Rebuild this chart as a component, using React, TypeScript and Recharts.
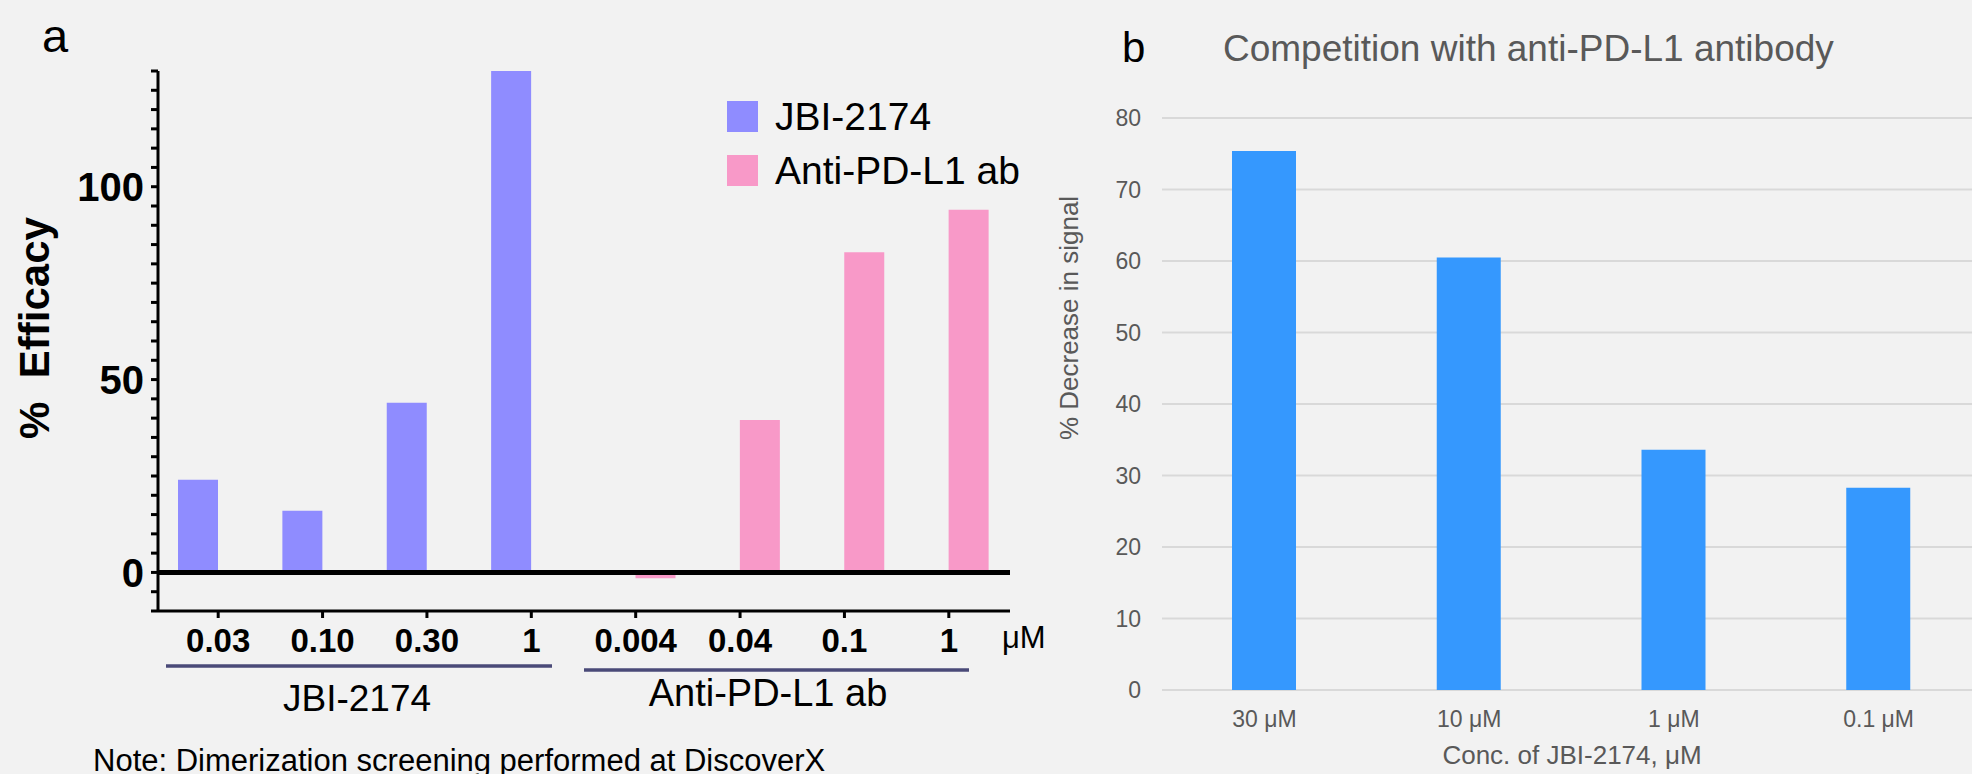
import { BarChart, Bar, XAxis, YAxis, CartesianGrid, ReferenceLine, Legend } from 'recharts'

const FONT = '"Liberation Sans", Arial, Helvetica, sans-serif'

// panel a: dimerization screening
const efficacyCategories = ['0.03', '0.10', '0.30', '1', '0.004', '0.04', '0.1', '1']
const jbiEfficacy = [24, 16, 44, 130, null, null, null, null]
const antibodyEfficacy = [null, null, null, null, -1.5, 39.5, 83, 94]
const efficacyTicks = [-10, -5, 0, 5, 10, 15, 20, 25, 30, 35, 40, 45, 50, 55, 60, 65, 70, 75, 80, 85, 90, 95, 100, 105, 110, 115, 120, 125, 130]
const efficacyLabeledTicks = [0, 50, 100]
const seriesNames = ['JBI-2174', 'Anti-PD-L1 ab']

// panel b: competition with antibody
const competitionCategories = ['30 μM', '10 μM', '1 μM', '0.1 μM']
const signalDecrease = [75.4, 60.5, 33.6, 28.3]
const decreaseTicks = [0, 10, 20, 30, 40, 50, 60, 70, 80]

const efficacyData = efficacyCategories.map((label, i) => ({
  label,
  jbi: jbiEfficacy[i],
  ab: antibodyEfficacy[i],
}))

const competitionData = competitionCategories.map((label, i) => ({
  label,
  value: signalDecrease[i],
}))

function EfficacyTick(props: any) {
  const { x, y, payload } = props
  if (!efficacyLabeledTicks.includes(payload.value)) return <g />
  return (
    <text x={x} y={y} dy="0.355em" textAnchor="end" fontSize={40} fontWeight="bold" fill="#000" fontFamily={FONT}>
      {payload.value}
    </text>
  )
}

function EfficacyLegend(props: any) {
  const items = [...(props.payload || [])].sort(
    (a: any, b: any) => seriesNames.indexOf(a.value) - seriesNames.indexOf(b.value)
  )
  return (
    <div style={{ fontFamily: FONT }}>
      {items.map((entry: any) => (
        <div key={entry.value} style={{ display: 'flex', alignItems: 'center', height: 31, marginBottom: 23 }}>
          <span style={{ width: 31, height: 31, background: entry.color, display: 'inline-block' }} />
          <span style={{ marginLeft: 17, fontSize: 39, lineHeight: '31px', color: '#000', whiteSpace: 'nowrap' }}>{entry.value}</span>
        </div>
      ))}
    </div>
  )
}

export default function App() {
  return (
    <div style={{ position: 'fixed', left: 0, top: 0, width: 1972, height: 774, overflow: 'hidden', background: '#f2f2f2' }}>
      <div style={{ position: 'absolute', left: 0, top: 0 }}>
        <BarChart
          width={1100}
          height={774}
          data={efficacyData}
          margin={{ top: 71, right: 90, left: 0, bottom: 0 }}
          barGap={0}
          barSize={40}
        >
          <XAxis
            dataKey="label"
            height={163}
            interval={0}
            padding={{ left: 8, right: 9 }}
            axisLine={{ stroke: '#000', strokeWidth: 3 }}
            tickLine={{ stroke: '#000', strokeWidth: 3 }}
            tickSize={7}
            tickMargin={11}
            tick={{ fontSize: 33, fontWeight: 'bold', fill: '#000', fontFamily: FONT }}
          />
          <YAxis
            width={158}
            domain={[-10, 130]}
            ticks={efficacyTicks}
            interval={0}
            allowDataOverflow
            axisLine={{ stroke: '#000', strokeWidth: 3 }}
            tickLine={{ stroke: '#000', strokeWidth: 3 }}
            tickSize={7}
            tickMargin={7}
            tick={EfficacyTick}
          />
          <Legend
            layout="vertical"
            verticalAlign="middle"
            align="center"
            wrapperStyle={{ left: 727, top: 101, width: 320 }}
            content={EfficacyLegend}
          />
          <Bar dataKey="jbi" name={seriesNames[0]} fill="#8f8cff" isAnimationActive={false} />
          <Bar dataKey="ab" name={seriesNames[1]} fill="#f899c8" isAnimationActive={false} />
          <ReferenceLine y={0} stroke="#000" strokeWidth={5} />
        </BarChart>
      </div>

      <div style={{ position: 'absolute', left: 1090, top: 0 }}>
        <BarChart
          width={900}
          height={774}
          data={competitionData}
          margin={{ top: 118, right: 9, left: 0, bottom: 0 }}
          barSize={64}
        >
          <CartesianGrid vertical={false} stroke="#d9d9d9" strokeWidth={2} />
          <XAxis
            dataKey="label"
            height={84}
            interval={0}
            axisLine={false}
            tickLine={false}
            tickSize={0}
            tickMargin={21}
            tick={{ fontSize: 23, fill: '#595959', fontFamily: FONT }}
          />
          <YAxis
            width={72}
            domain={[0, 80]}
            ticks={decreaseTicks}
            interval={0}
            axisLine={false}
            tickLine={false}
            tickSize={0}
            tickMargin={21}
            tick={{ fontSize: 23, fill: '#595959', fontFamily: FONT }}
          />
          <Bar dataKey="value" fill="#3598fe" isAnimationActive={false} />
        </BarChart>
      </div>

      <svg width={1972} height={774} style={{ position: 'absolute', left: 0, top: 0, pointerEvents: 'none' }} fontFamily={FONT}>
        <text x={42} y={52} fontSize={47} fill="#000">a</text>
        <text x={1122} y={62} fontSize={42} fill="#000">b</text>
        <text x={1223} y={61} fontSize={37} fill="#595959">Competition with anti-PD-L1 antibody</text>

        <text transform="translate(49,328) rotate(-90)" textAnchor="middle" fontSize={42} fontWeight="bold" fill="#000">
          {'%\u00A0 Efficacy'}
        </text>
        <text transform="translate(1078,318) rotate(-90)" textAnchor="middle" fontSize={26} fill="#595959">
          % Decrease in signal
        </text>

        <text x={1002} y={648} fontSize={31} fill="#000">μM</text>
        <line x1={166} y1={666} x2={552} y2={666} stroke="#4a4a78" strokeWidth={3.5} />
        <line x1={584} y1={670} x2={969} y2={670} stroke="#4a4a78" strokeWidth={3.5} />
        <text x={357} y={711} textAnchor="middle" fontSize={37} fill="#000">JBI-2174</text>
        <text x={768} y={706} textAnchor="middle" fontSize={38} fill="#000">Anti-PD-L1 ab</text>
        <text x={93} y={771} fontSize={31} fill="#000">Note: Dimerization screening performed at DiscoverX</text>

        <text x={1572} y={764} textAnchor="middle" fontSize={26} fill="#595959">Conc. of JBI-2174, μM</text>
      </svg>
    </div>
  )
}
